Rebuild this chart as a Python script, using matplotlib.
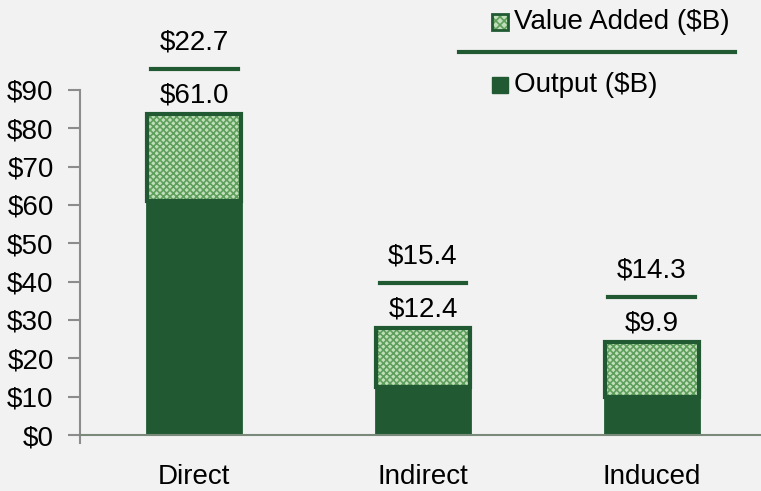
import numpy as np
import matplotlib.pyplot as plt
from matplotlib.patches import Rectangle
from matplotlib.lines import Line2D
from matplotlib.transforms import offset_copy
from matplotlib.colors import to_rgba

plt.rcParams['font.family'] = ['Liberation Sans', 'DejaVu Sans']
plt.rcParams['hatch.linewidth'] = 1.2

categories = ['Direct', 'Indirect', 'Induced']
output = [61.0, 12.4, 9.9]
value_added = [22.7, 15.4, 14.3]
yticks = [0, 10, 20, 30, 40, 50, 60, 70, 80, 90]

dark = '#215a32'
light = '#c2dfbc'
hatch_col = '#5f9f5c'
bg = '#f2f2f2'
axis_col = '#8c8c8c'
fs = 20

W, H = 761, 491
fig = plt.figure(figsize=(W / 100, H / 100), dpi=100, facecolor=bg)
ax = fig.add_axes([80 / W, 1 - 435 / H, 686 / W, 345 / H], facecolor=bg)

x = np.arange(len(categories))
bw = 0.41
ax.bar(x, output, width=bw, color=dark, edgecolor=dark, linewidth=2, zorder=2)
ax.bar(x, value_added, width=bw, bottom=output, color=light, edgecolor=dark,
       linewidth=3, hatch='xxxxx', zorder=2)
for b in ax.patches[len(categories):]:
    b._hatch_color = to_rgba(hatch_col)

ax.set_xlim(-0.5, 2.5)
ax.set_ylim(0, 90)
ax.set_yticks(yticks)
ax.set_yticklabels([f'${v}' for v in yticks])
ax.set_xticks(x)
ax.set_xticklabels(categories)
ax.tick_params(axis='y', length=9, width=1.5, color=axis_col, labelsize=fs, pad=10)
ax.tick_params(axis='x', length=0, labelsize=fs, pad=21)
for s in ['top', 'right']:
    ax.spines[s].set_visible(False)
ax.spines['left'].set_color(axis_col)
ax.spines['left'].set_linewidth(1.5)
ax.spines['left'].set_bounds(-2, 90)
ax.spines['bottom'].set_color('#7a8a7a')
ax.spines['bottom'].set_linewidth(1.5)

# data labels: output below the rule, value added above it
for xi, o, v in zip(x, output, value_added):
    top = o + v
    ax.text(xi, top, f'${o:.1f}', ha='center', va='center', fontsize=fs,
            transform=offset_copy(ax.transData, fig, x=0, y=19, units='dots'))
    ln = Line2D([xi - 0.19, xi + 0.19], [top, top], color=dark, linewidth=3,
                transform=offset_copy(ax.transData, fig, x=0, y=45, units='dots'),
                clip_on=False)
    ax.add_line(ln)
    ax.text(xi, top, f'${v:.1f}', ha='center', va='center', fontsize=fs,
            transform=offset_copy(ax.transData, fig, x=0, y=72, units='dots'))

# legend drawn by hand with a rule between the entries
def px(xp, yp):
    return xp / W, 1 - yp / H

r1 = Rectangle(px(492, 30), 16 / W, 16 / H, transform=fig.transFigure,
               facecolor=light, edgecolor=dark, linewidth=2, hatch='xxxx')
r1._hatch_color = to_rgba(hatch_col)
fig.patches.append(r1)
fig.text(*px(514, 22), 'Value Added ($B)', fontsize=fs, va='center', ha='left')
fig.lines.append(Line2D([459 / W, 735 / W], [1 - 52 / H] * 2, color=dark,
                        linewidth=3, transform=fig.transFigure))
r2 = Rectangle(px(492, 93), 16 / W, 16 / H, transform=fig.transFigure,
               facecolor=dark, edgecolor=dark, linewidth=1)
fig.patches.append(r2)
fig.text(*px(514, 85), 'Output ($B)', fontsize=fs, va='center', ha='left')

fig.savefig('out.png', dpi=100, facecolor=bg)
